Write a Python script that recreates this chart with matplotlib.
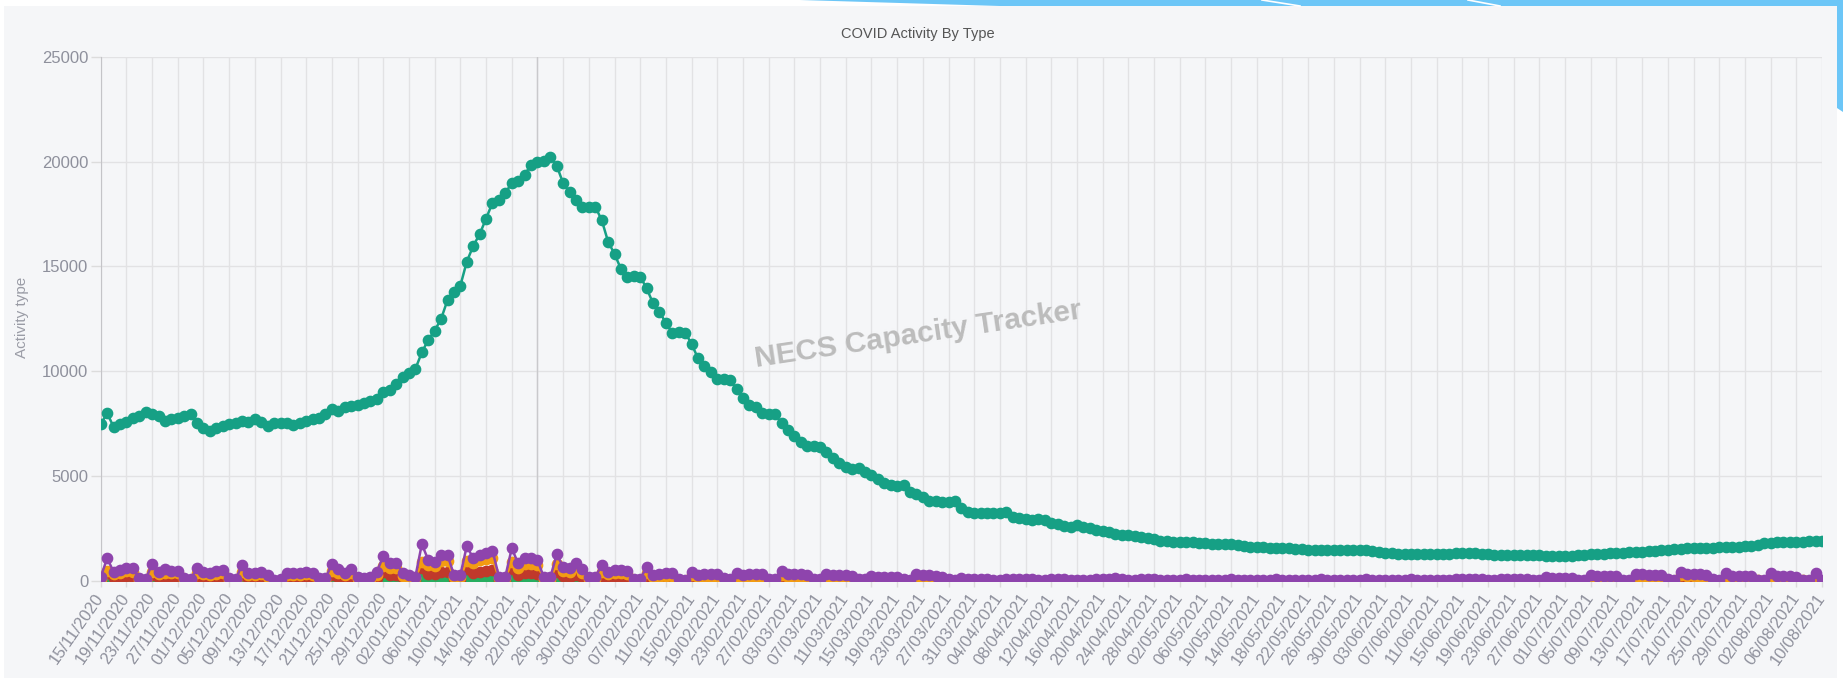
import matplotlib
matplotlib.use("Agg")
import matplotlib.pyplot as plt
from matplotlib.patches import Rectangle, Polygon
from matplotlib.lines import Line2D
import pandas as pd

plt.rcParams['font.family'] = ['Liberation Sans', 'DejaVu Sans']

# ---------------- data ----------------
start_date = "2020-11-15"
n_days = 269
dates = pd.date_range(start_date, periods=n_days, freq="D")
date_labels = [d.strftime("%d/%m/%Y") for d in dates]

total_activity = [
    7470, 8000, 7360, 7470, 7600, 7760, 7870, 8040, 7950, 7870,
    7630, 7710, 7790, 7870, 7950, 7550, 7310, 7150, 7310, 7410,
    7490, 7550, 7650, 7570, 7730, 7600, 7390, 7520, 7550, 7520,
    7440, 7550, 7650, 7710, 7790, 7950, 8190, 8120, 8310, 8350,
    8390, 8470, 8580, 8670, 9000, 9100, 9380, 9710, 9900, 10120,
    10900, 11500, 11940, 12500, 13400, 13800, 14090, 15230, 15980, 16540,
    17280, 18040, 18170, 18490, 19000, 19090, 19380, 19840, 20000, 20050,
    20210, 19810, 18970, 18540, 18170, 17850, 17850, 17850, 17220, 16180,
    15600, 14880, 14510, 14530, 14510, 13960, 13240, 12850, 12290, 11850,
    11870, 11850, 11300, 10620, 10250, 9980, 9610, 9620, 9600, 9140,
    8710, 8390, 8280, 8000, 7950, 7950, 7520, 7200, 6920, 6640,
    6420, 6420, 6400, 6170, 5850, 5650, 5420, 5330, 5380, 5210,
    5060, 4850, 4690, 4580, 4530, 4580, 4260, 4150, 3990, 3830,
    3800, 3780, 3780, 3830, 3470, 3300, 3260, 3230, 3230, 3230,
    3230, 3300, 3070, 3020, 2940, 2910, 2940, 2910, 2780, 2720,
    2640, 2590, 2670, 2590, 2510, 2430, 2380, 2320, 2250, 2200,
    2190, 2160, 2100, 2040, 1980, 1920, 1890, 1880, 1860, 1850,
    1860, 1820, 1790, 1770, 1760, 1760, 1750, 1700, 1660, 1620,
    1600, 1600, 1590, 1570, 1560, 1560, 1540, 1520, 1500, 1490,
    1480, 1480, 1480, 1470, 1470, 1480, 1470, 1460, 1420, 1380,
    1350, 1330, 1310, 1300, 1290, 1290, 1290, 1300, 1300, 1310,
    1310, 1320, 1320, 1330, 1330, 1300, 1280, 1260, 1250, 1240,
    1240, 1230, 1230, 1220, 1220, 1210, 1210, 1210, 1200, 1210,
    1230, 1260, 1280, 1290, 1310, 1320, 1330, 1340, 1360, 1380,
    1400, 1420, 1450, 1480, 1490, 1510, 1530, 1550, 1560, 1570,
    1580, 1590, 1600, 1610, 1620, 1640, 1650, 1680, 1700, 1820,
    1830, 1840, 1850, 1860, 1870, 1880, 1890, 1910, 1900,
]

purple_series = [
    180, 1080, 450, 520, 620, 600, 130, 90, 810, 450,
    550, 490, 490, 130, 80, 600, 450, 400, 490, 520,
    130, 80, 760, 400, 400, 450, 290, 30, 80, 400,
    400, 400, 450, 400, 130, 130, 810, 560, 400, 560,
    175, 130, 175, 450, 1190, 840, 870, 370, 290, 210,
    1760, 1000, 920, 1240, 1240, 290, 290, 1670, 1080, 1240,
    1320, 1450, 210, 210, 1560, 840, 1080, 1080, 1000, 175,
    175, 1270, 680, 600, 870, 560, 175, 175, 760, 450,
    520, 520, 490, 80, 80, 680, 290, 330, 370, 370,
    80, 50, 450, 290, 330, 330, 330, 130, 80, 400,
    290, 330, 330, 330, 100, 80, 480, 350, 350, 330,
    300, 100, 80, 320, 290, 290, 280, 260, 100, 80,
    240, 200, 200, 200, 200, 80, 70, 320, 290, 280,
    250, 200, 80, 60, 150,
    110, 100, 90, 90, 40, 40,
    100, 80, 80, 80, 80, 30, 30,
    90, 80, 80, 70, 70, 30, 30,
    90, 80, 80, 150, 80, 30, 30,
    90, 80, 80, 70, 70, 30, 30,
    80, 70, 70, 70, 70, 30, 30,
    80, 70, 70, 70, 70, 30, 30,
    80, 70, 70, 70, 70, 30, 30,
    80, 70, 70, 70, 70, 30, 30,
    80, 70, 70, 70, 70, 30, 30,
    80, 70, 70, 70, 70, 30, 30,
    90, 80, 80, 80, 80, 30, 30,
    100, 90, 90, 90, 90, 40, 40,
    180, 160, 150, 150, 150, 60, 50,
    280, 250, 250, 240, 240, 60, 50,
    320, 310, 300, 300, 300, 80, 60,
    450, 340, 330, 320, 300, 80, 60,
    370, 260, 250, 250, 240, 70, 60,
    370, 230, 220, 220, 210, 60, 50,
    400, 30,
]

orange_series = [
    90, 480, 350, 400, 460, 450, 70, 50, 450, 330,
    400, 360, 360, 70, 40, 380, 330, 290, 350, 380,
    70, 40, 420, 290, 290, 330, 200, 20, 40, 290,
    290, 290, 330, 290, 70, 70, 460, 400, 290, 400,
    100, 70, 100, 300, 700, 620, 640, 250, 180, 120,
    900, 780, 720, 950, 950, 180, 180, 950, 850, 980,
    1030, 1100, 130, 130, 900, 640, 830, 830, 780, 110,
    110, 800, 500, 450, 650, 400, 100, 100, 450, 320,
    370, 370, 350, 40, 40, 400, 180, 210, 240, 240,
    40, 20, 280, 180, 210, 210, 210, 60, 40, 250,
    160, 190, 190, 190, 40, 30, 280, 200, 200, 180,
    160, 40, 30, 150, 120, 120, 110, 100, 30, 20,
    80, 60, 60, 60, 60, 20, 20, 120, 100, 90,
    80, 60, 20, 10, 30,
    20, 20, 20, 20, 10, 10,
    20, 15, 15, 15, 15, 5, 5,
    20, 15, 15, 15, 15, 5, 5,
    20, 15, 15, 40, 15, 5, 5,
    20, 15, 15, 15, 15, 5, 5,
    20, 15, 15, 15, 15, 5, 5,
    20, 15, 15, 15, 15, 5, 5,
    20, 15, 15, 15, 15, 5, 5,
    20, 15, 15, 15, 15, 5, 5,
    20, 15, 15, 15, 15, 5, 5,
    20, 15, 15, 15, 15, 5, 5,
    20, 15, 15, 15, 15, 5, 5,
    20, 15, 15, 15, 15, 5, 5,
    80, 70, 70, 70, 70, 20, 10,
    150, 140, 140, 130, 130, 20, 10,
    200, 190, 190, 180, 180, 30, 20,
    300, 230, 220, 210, 200, 30, 20,
    230, 170, 160, 160, 150, 30, 20,
    220, 140, 140, 140, 130, 30, 20,
    250, 10,
]

red_series = [
    60, 380, 160, 180, 220, 210, 50, 30, 280, 160,
    190, 170, 170, 50, 30, 210, 160, 140, 170, 180,
    50, 30, 270, 140, 140, 160, 100, 10, 30, 140,
    140, 140, 160, 140, 50, 50, 280, 200, 140, 200,
    60, 50, 60, 160, 420, 290, 300, 130, 100, 70,
    620, 350, 320, 430, 430, 100, 100, 580, 380, 430,
    460, 510, 70, 70, 550, 290, 380, 380, 350, 60,
    60, 440, 240, 210, 300, 200, 60, 60, 150, 90,
    100, 100, 100, 20, 20, 140, 60, 70, 70, 70,
    20, 10, 90, 60, 70, 70, 70, 30, 20, 80,
    60, 70, 70, 70, 20, 20, 50, 40, 40, 30,
    30, 10, 10, 30, 30, 30, 30, 30, 10, 10,
    20, 20, 20, 20, 20, 10, 10, 30, 30, 30,
    30, 20, 10, 10, 20,
    10, 10, 10, 10, 5, 5,
    10, 5, 5, 5, 5, 0, 0,
    10, 5, 5, 5, 5, 0, 0,
    10, 5, 5, 5, 5, 0, 0,
    10, 5, 5, 5, 5, 0, 0,
    10, 5, 5, 5, 5, 0, 0,
    10, 5, 5, 5, 5, 0, 0,
    10, 5, 5, 5, 5, 0, 0,
    10, 5, 5, 5, 5, 0, 0,
    10, 5, 5, 5, 5, 0, 0,
    10, 5, 5, 5, 5, 0, 0,
    10, 5, 5, 5, 5, 0, 0,
    10, 5, 5, 5, 5, 0, 0,
    10, 10, 10, 10, 10, 0, 0,
    10, 10, 10, 10, 10, 0, 0,
    10, 10, 10, 10, 10, 0, 0,
    10, 10, 10, 10, 10, 0, 0,
    10, 10, 10, 10, 10, 0, 0,
    10, 10, 10, 10, 10, 0, 0,
    10, 0,
]

green_series = [
    20, 130, 50, 60, 70, 70, 20, 10, 100, 50,
    70, 60, 60, 20, 10, 70, 50, 50, 60, 60,
    20, 10, 90, 50, 50, 50, 30, 0, 10, 50,
    50, 50, 50, 50, 20, 20, 100, 70, 50, 70,
    20, 20, 20, 50, 140, 100, 100, 40, 30, 30,
    210, 160, 150, 200, 200, 50, 50, 200, 170, 200,
    210, 230, 40, 40, 190, 130, 170, 170, 160, 30,
    30, 150, 100, 90, 130, 80, 30, 30, 90, 60,
    60, 60, 60, 10, 10, 80, 30, 40, 40, 40,
    10, 10, 50, 30, 40, 40, 40, 10, 10, 40,
    30, 30, 30, 30, 10, 10, 20, 20, 20, 20,
    20, 10, 10, 20, 20, 20, 20, 20, 10, 10,
    10, 10, 10, 10, 10, 5, 5, 10, 10, 10,
    10, 10, 5, 5, 10,
    5, 5, 5, 5, 0, 0,
    5, 5, 5, 5, 5, 0, 0,
    5, 5, 5, 5, 5, 0, 0,
    5, 5, 5, 5, 5, 0, 0,
    5, 5, 5, 5, 5, 0, 0,
    5, 5, 5, 5, 5, 0, 0,
    5, 5, 5, 5, 5, 0, 0,
    5, 5, 5, 5, 5, 0, 0,
    5, 5, 5, 5, 5, 0, 0,
    5, 5, 5, 5, 5, 0, 0,
    5, 5, 5, 5, 5, 0, 0,
    5, 5, 5, 5, 5, 0, 0,
    5, 5, 5, 5, 5, 0, 0,
    5, 5, 5, 5, 5, 0, 0,
    5, 5, 5, 5, 5, 0, 0,
    5, 5, 5, 5, 5, 0, 0,
    5, 5, 5, 5, 5, 0, 0,
    5, 5, 5, 5, 5, 0, 0,
    5, 5, 5, 5, 5, 0, 0,
    5, 0,
]

y_ticks = [0, 5000, 10000, 15000, 20000, 25000]
title_text = "COVID Activity By Type"
y_label = "Activity type"
watermark = "NECS Capacity Tracker"

# ---------------- figure ----------------
W, H = 1843, 678
fig = plt.figure(figsize=(W / 100, H / 100), dpi=100)
fig.patch.set_facecolor("white")

# card background
fig.add_artist(Rectangle((4 / W, 0), (1837 - 4) / W, (H - 6) / H,
                         transform=fig.transFigure, facecolor="#f5f6f8",
                         edgecolor="none", zorder=0))
# decorative blue shapes top-right
blue = "#6cc6f7"
fig.add_artist(Polygon([(800 / W, 1.0), (W / W, 1.0), (W / W, 1 - 112 / H),
                        (1837 / W, 1 - 108 / H), (1837 / W, 1 - 6 / H),
                        (1000 / W, 1 - 6 / H)],
                       closed=True, transform=fig.transFigure,
                       facecolor=blue, edgecolor="none", zorder=1))
for x0, x1 in [(1262, 1300), (1468, 1500)]:
    fig.add_artist(Line2D([x0 / W, x1 / W], [1.0, 1 - 6 / H],
                          transform=fig.transFigure, color="white", lw=1.2, zorder=2))

left, right, bottom, top = 100.7, 1822.0, 581.0, 56.8
ax = fig.add_axes([left / W, 1 - bottom / H, (right - left) / W, (bottom - top) / H])
ax.set_facecolor("none")
ax.set_zorder(3)

x = list(range(n_days))
ms = 7.4
lw = 1.8
ax.plot(x, green_series, color="#27ae60", lw=lw, marker="o", ms=ms, zorder=3)
ax.plot(x, red_series, color="#c0392b", lw=lw, marker="o", ms=ms, zorder=4)
ax.plot(x, orange_series, color="#f39c12", lw=lw, marker="o", ms=ms, zorder=5)
ax.plot(x, purple_series, color="#8e44ad", lw=lw, marker="o", ms=ms, zorder=6)
ax.plot(x, total_activity, color="#16a085", lw=lw, marker="o", ms=ms, zorder=7)

ax.set_xlim(0, n_days - 1)
ax.set_ylim(0, 25000)

tick_idx = x[::4]
ax.set_xticks(tick_idx)
ax.set_xticklabels([date_labels[i] for i in tick_idx], rotation=55, ha="right",
                   va="center", rotation_mode="anchor", fontsize=12, color="#8e909c")
ax.set_yticks(y_ticks)
ax.set_yticklabels([str(v) for v in y_ticks], fontsize=12, color="#8e909c")

ax.tick_params(axis="x", length=4, width=1, color="#dcdcdc", pad=6)
ax.tick_params(axis="y", length=7, width=1, color="#dcdcdc", pad=2)

ax.grid(True, color="#e2e2e4", lw=1, zorder=0)
ax.set_axisbelow(True)
ax.axvline(68, color="#c9c9cc", lw=1, zorder=1)
for s in ["top", "right", "bottom"]:
    ax.spines[s].set_visible(False)
ax.spines["left"].set_color("#c4c4c8")

fig.text(918 / W, 1 - 34 / H, title_text, ha="center", va="center",
         fontsize=10.5, color="#555555")
fig.text(22 / W, 1 - 317 / H, y_label, ha="center", va="center", rotation=90,
         fontsize=11, color="#9a9ca6")
fig.text(918 / W, 1 - 335 / H, watermark, ha="center", va="center", rotation=8.5,
         fontsize=21.5, fontweight="bold", color="#bcbcbc", zorder=10)

fig.savefig("out.png", dpi=100)
